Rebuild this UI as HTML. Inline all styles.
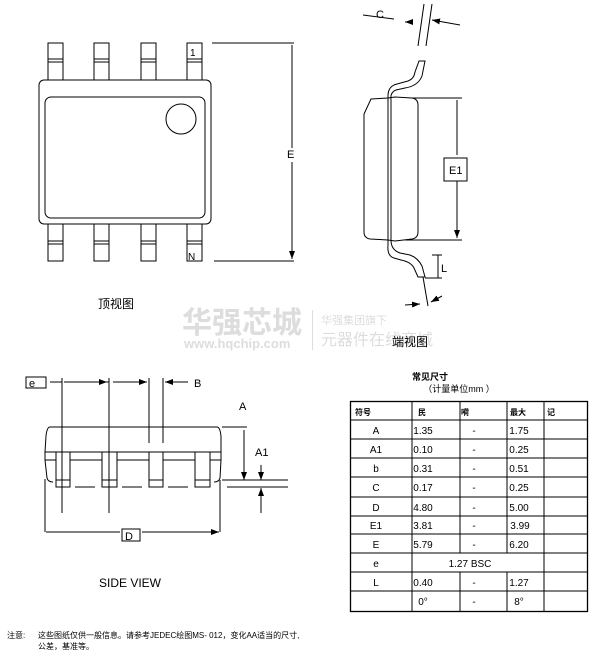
<!DOCTYPE html>
<html><head><meta charset="utf-8"><style>
body{margin:0;background:#fff;width:610px;height:660px;overflow:hidden;position:relative;font-family:"Liberation Sans","Noto Sans CJK SC",sans-serif}
svg{position:absolute;left:0;top:0}
</style></head><body>
<svg width="610" height="660" viewBox="0 0 610 660" font-family="Liberation Sans, Noto Sans CJK SC, sans-serif">
<defs><marker id="a" markerWidth="8" markerHeight="6" refX="8" refY="3" orient="auto" markerUnits="userSpaceOnUse"><path d="M0,0 L8,3 L0,6z" fill="#000"/></marker></defs>
<!-- watermark -->
<g fill="#ddd">
<text x="182" y="333" font-size="30" font-weight="bold">华强芯城</text>
<text x="184" y="348" font-size="13" font-weight="bold">www.hqchip.com</text>
<rect x="312" y="310" width="1" height="40"/>
<text x="321" y="324" font-size="11">华强集团旗下</text>
<text x="321" y="345" font-size="16">元器件在线商城</text>
</g>
<g fill="none" stroke="#000" stroke-width="1">
<!-- top view -->
<g id="pins">
<rect x="48" y="43" width="15" height="37"/><rect x="94" y="43" width="15" height="37"/><rect x="141" y="43" width="15" height="37"/><rect x="187" y="43" width="15" height="37"/>
<path d="M48 59H63M48 62H63M94 59H109M94 62H109M141 59H156M141 62H156M187 59H202M187 62H202"/>
<rect x="48" y="224" width="15" height="37"/><rect x="94" y="224" width="15" height="37"/><rect x="141" y="224" width="15" height="37"/><rect x="187" y="224" width="15" height="37"/>
<path d="M48 241H63M48 244H63M94 241H109M94 244H109M141 241H156M141 244H156M187 241H202M187 244H202"/>
</g>
<rect x="39" y="80" width="172" height="144" rx="5" fill="#fff"/>
<rect x="45" y="97" width="160" height="121" rx="6"/>
<circle cx="181" cy="119" r="15"/>
<path d="M212 43H294M214 261H294"/>
<path d="M292 148V45M292 162V259" marker-end="url(#a)"/>
<!-- side (end) view -->
<path d="M424 4L418 46M432 4L426 46"/>
<path d="M363 15L394 19M408 22L405 22" marker-end="url(#a)"/>
<path d="M460 25L432 20" marker-end="url(#a)"/>
<path d="M419 61H425L422 76Q418 86 405 88L396 90Q390 92 391 100V240Q391 250 400 253L410 255Q418 258 422 266L425 277H418L414 268Q411 262 401 260L394 258Q387 256 388 245V96Q388 86 397 84L408 81Q414 79 415 72Z"/>
<path d="M371 99L388 98L395 97L412 98Q418 99 418 105V232Q418 238 412 239L395 241L388 240L370 239Q364 238 364 232V114L371 99Z"/>
<path d="M412 98H462M405 240H462"/>
<path d="M457 155V100M457 181V238" marker-end="url(#a)"/>
<rect x="444" y="158" width="23" height="23"/>
<path d="M432 255H442M425 278H442M438 255V278"/>
<path d="M423 277L428 306"/>
<path d="M405 305L420 304" marker-end="url(#a)"/>
<path d="M442 296L431 302" marker-end="url(#a)"/>
<!-- side view -->
<rect x="26" y="377" width="20" height="11"/>
<path d="M62 378V513M109 378V513M149 378V443M163 378V443"/>
<path d="M50 382H62M84 382H109M113 382H139"/>
<path d="M84 382H64M84 382H107" marker-end="url(#a)"/>
<path d="M139 382H147" marker-end="url(#a)"/>
<path d="M188 382H165" marker-end="url(#a)"/>
<path d="M50 427Q47 427 46 436L45 452V460L47 478Q48 482 53 482M217 427Q220 427 221 436L221 452V460L220 478Q219 482 214 482"/>
<path d="M50 427H217M45 452H221M45 460H221"/>
<rect x="56" y="452" width="14" height="35" fill="#fff"/><rect x="102" y="452" width="15" height="35" fill="#fff"/><rect x="149" y="452" width="14" height="35" fill="#fff"/><rect x="195" y="452" width="15" height="35" fill="#fff"/>
<path d="M56 480H70M102 480H117M149 480H163M195 480H210"/>
<path d="M62 452V513M109 452V513M62 470V475M109 470V475"/>
<path d="M75 487H95M122 487H142M168 487H188"/>
<path d="M222 480H288M227 487H288M222 427H247"/>
<path d="M244 430V480" marker-end="url(#a)"/>
<path d="M261 465V480" marker-end="url(#a)"/>
<path d="M261 513V488" marker-end="url(#a)"/>
<path d="M45 479V532M220 480V532"/>
<path d="M120 532H46M142 532H219" marker-end="url(#a)"/>
<rect x="122" y="529" width="18" height="12"/>
<!-- table -->
<rect x="350.5" y="401.5" width="237" height="210" stroke-width="1.3"/>
<path d="M350 420H587M350 439H587M350 458H587M350 477H587M350 497H587M350 516H587M350 534H587M350 553H587M350 572H587M350 591H587"/>
<path d="M412 401V611M460 401V553M460 572V611M507 401V553M507 572V611M544 401V611"/>
</g>
<g font-size="12" fill="#000">
<text x="190" y="56" font-size="10">1</text>
<text x="188" y="260" font-size="10">N</text>
<text x="287" y="158" font-size="11">E</text>
<text x="98" y="308">顶视图</text>
<text x="376" y="18" font-size="11">C</text>
<text x="449" y="174" font-size="11">E1</text>
<text x="441" y="272" font-size="11">L</text>
<text x="392" y="346">端视图</text>
<text x="29" y="387" font-size="11">e</text>
<text x="194" y="387" font-size="11">B</text>
<text x="239" y="410" font-size="11">A</text>
<text x="255" y="456" font-size="11">A1</text>
<text x="125" y="540" font-size="11">D</text>
<text x="99" y="587">SIDE VIEW</text>
</g>
<g font-size="10" fill="#000" text-anchor="middle">
<text x="430" y="380" font-size="9" font-weight="bold">常见尺寸</text>
<text x="459" y="392" font-size="9">（计量单位mm ）</text>
<g font-size="8" font-weight="bold" text-anchor="start"><text x="355" y="415">符号</text><text x="418" y="415">民</text><text x="461" y="415">嗬</text><text x="510" y="415">最大</text><text x="547" y="415">记</text></g>
<text x="376" y="434">A</text><text x="423" y="434">1.35</text><text x="474" y="434">-</text><text x="519" y="434">1.75</text>
<text x="376" y="453">A1</text><text x="423" y="453">0.10</text><text x="474" y="453">-</text><text x="519" y="453">0.25</text>
<text x="376" y="472">b</text><text x="423" y="472">0.31</text><text x="474" y="472">-</text><text x="519" y="472">0.51</text>
<text x="376" y="491">C</text><text x="423" y="491">0.17</text><text x="474" y="491">-</text><text x="519" y="491">0.25</text>
<text x="376" y="511">D</text><text x="423" y="511">4.80</text><text x="474" y="511">-</text><text x="519" y="511">5.00</text>
<text x="376" y="529">E1</text><text x="423" y="529">3.81</text><text x="474" y="529">-</text><text x="520" y="529">3.99</text>
<text x="376" y="548">E</text><text x="423" y="548">5.79</text><text x="474" y="548">-</text><text x="519" y="548">6.20</text>
<text x="376" y="567">e</text><text x="470" y="567">1.27 BSC</text>
<text x="376" y="586">L</text><text x="423" y="586">0.40</text><text x="474" y="586">-</text><text x="519" y="586">1.27</text>
<text x="423" y="605">0°</text><text x="474" y="605">-</text><text x="519" y="605">8°</text>
</g>
<g font-size="8" fill="#000">
<text x="7" y="638">注意:</text>
<text x="38" y="638">这些图纸仅供一般信息。请参考JEDEC绘图MS- 012，变化AA适当的尺寸,</text>
<text x="38" y="649">公差，基准等。</text>
</g>
</svg>
</body></html>
